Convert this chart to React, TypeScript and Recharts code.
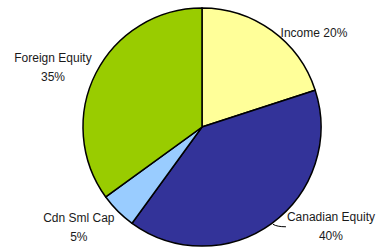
import React from "react";
import { PieChart, Pie, Cell } from "recharts";

const categories = ["Income", "Canadian Equity", "Cdn Sml Cap", "Foreign Equity"];
const values = [20, 40, 5, 35];
const colors = ["#FFFF99", "#333399", "#99CCFF", "#99CC00"];

const data = categories.map((name, i) => ({ name, value: values[i] }));

const RAD = Math.PI / 180;

// label block layout relative to the slice's outer-edge midpoint
const labelLayout: Record<string, { dx: number; dy: number; oneLine: boolean; leader?: boolean }> = {
  "Income": { dx: 42, dy: 6, oneLine: true },
  "Canadian Equity": { dx: 59, dy: -2, oneLine: false, leader: true },
  "Cdn Sml Cap": { dx: -39, dy: 11, oneLine: false },
  "Foreign Equity": { dx: -43, dy: -11, oneLine: false },
};

const renderLabel = (props: any) => {
  const { cx, cy, midAngle, outerRadius, name, value } = props;
  const px = cx + outerRadius * Math.cos(-midAngle * RAD);
  const py = cy + outerRadius * Math.sin(-midAngle * RAD);
  const L = labelLayout[name];
  const x = px + L.dx;
  const y = py + L.dy;
  const style = { fontFamily: "'Liberation Sans', Arial, sans-serif", fontSize: 12, fill: "#1a1a1a" };
  return (
    <g>
      {L.leader && (
        <path
          d={`M${px + 1},${py + 1} Q${px + 5},${py + 3.5} ${px + 14},${py + 3.5}`}
          stroke="#000"
          strokeWidth={1}
          fill="none"
        />
      )}
      {L.oneLine ? (
        <text x={x} y={y} textAnchor="middle" style={style}>
          {`${name} ${value}%`}
        </text>
      ) : (
        <text x={x} y={y} textAnchor="middle" style={style}>
          <tspan x={x} y={y}>{name}</tspan>
          <tspan x={x} y={y + 19}>{`${value}%`}</tspan>
        </text>
      )}
    </g>
  );
};

export default function App() {
  return (
    <div style={{ position: "absolute", left: 0, top: 0, width: 378, height: 247, background: "#fff" }}>
      <PieChart width={378} height={247} margin={{ top: 0, right: 0, bottom: 0, left: 0 }}>
        <Pie
          data={data}
          dataKey="value"
          nameKey="name"
          cx={202}
          cy={127}
          outerRadius={119}
          startAngle={90}
          endAngle={-270}
          stroke="#000"
          strokeWidth={1.5}
          label={renderLabel}
          labelLine={false}
          isAnimationActive={false}
        >
          {data.map((d, i) => (
            <Cell key={d.name} fill={colors[i]} stroke="#000" strokeWidth={1.5} />
          ))}
        </Pie>
      </PieChart>
    </div>
  );
}
